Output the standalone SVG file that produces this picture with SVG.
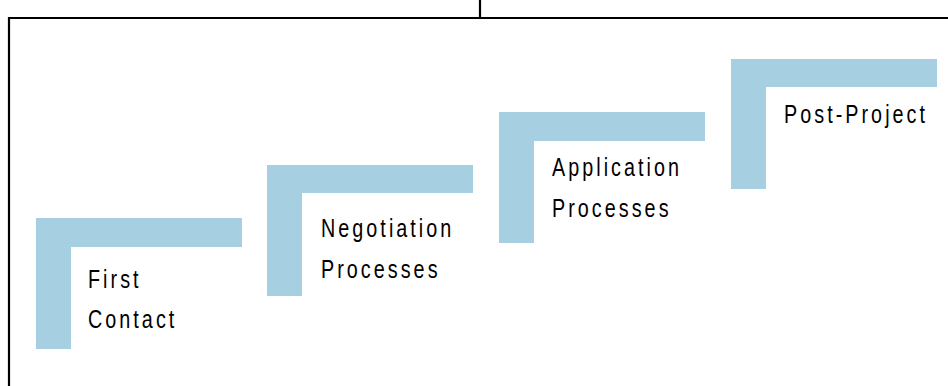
<svg xmlns="http://www.w3.org/2000/svg" width="948" height="386" viewBox="0 0 948 386">
  <style>
    .frame { stroke: #000; stroke-width: 2.2; fill: none; }
    .step { fill: #a6cfe2; }
    .label { font-family: "Liberation Sans", Arial, sans-serif; font-size: 26px; letter-spacing: 4px; fill: #000; }
  </style>
  <rect width="948" height="386" fill="#fff"/>

  <!-- outer frame: top rule with a stub above it, and the left edge -->
  <g id="frame">
    <path class="frame" d="M480 0 V18 M9 386 V18 H948"/>
  </g>

  <!-- stair steps: an L-shaped bar each; labels condensed by a horizontal scale -->
  <g id="step-first-contact">
    <path class="step" d="M36 218 H242 V247 H71 V349 H36 Z"/>
    <text class="label" transform="translate(88 288) scale(0.76 1)">First</text>
    <text class="label" transform="translate(88 328) scale(0.76 1)">Contact</text>
  </g>
  <g id="step-negotiation">
    <path class="step" d="M267 165 H473 V193 H302 V296 H267 Z"/>
    <text class="label" transform="translate(321 237) scale(0.76 1)">Negotiation</text>
    <text class="label" transform="translate(321 278) scale(0.76 1)">Processes</text>
  </g>
  <g id="step-application">
    <path class="step" d="M499 112 H705 V141 H534 V243 H499 Z"/>
    <text class="label" transform="translate(552 176) scale(0.76 1)">Application</text>
    <text class="label" transform="translate(552 217) scale(0.76 1)">Processes</text>
  </g>
  <g id="step-post-project">
    <path class="step" d="M731 59 H937 V87 H766 V189 H731 Z"/>
    <text class="label" transform="translate(784 123) scale(0.76 1)">Post-Project</text>
  </g>

  <g id="connectors"/>
</svg>
